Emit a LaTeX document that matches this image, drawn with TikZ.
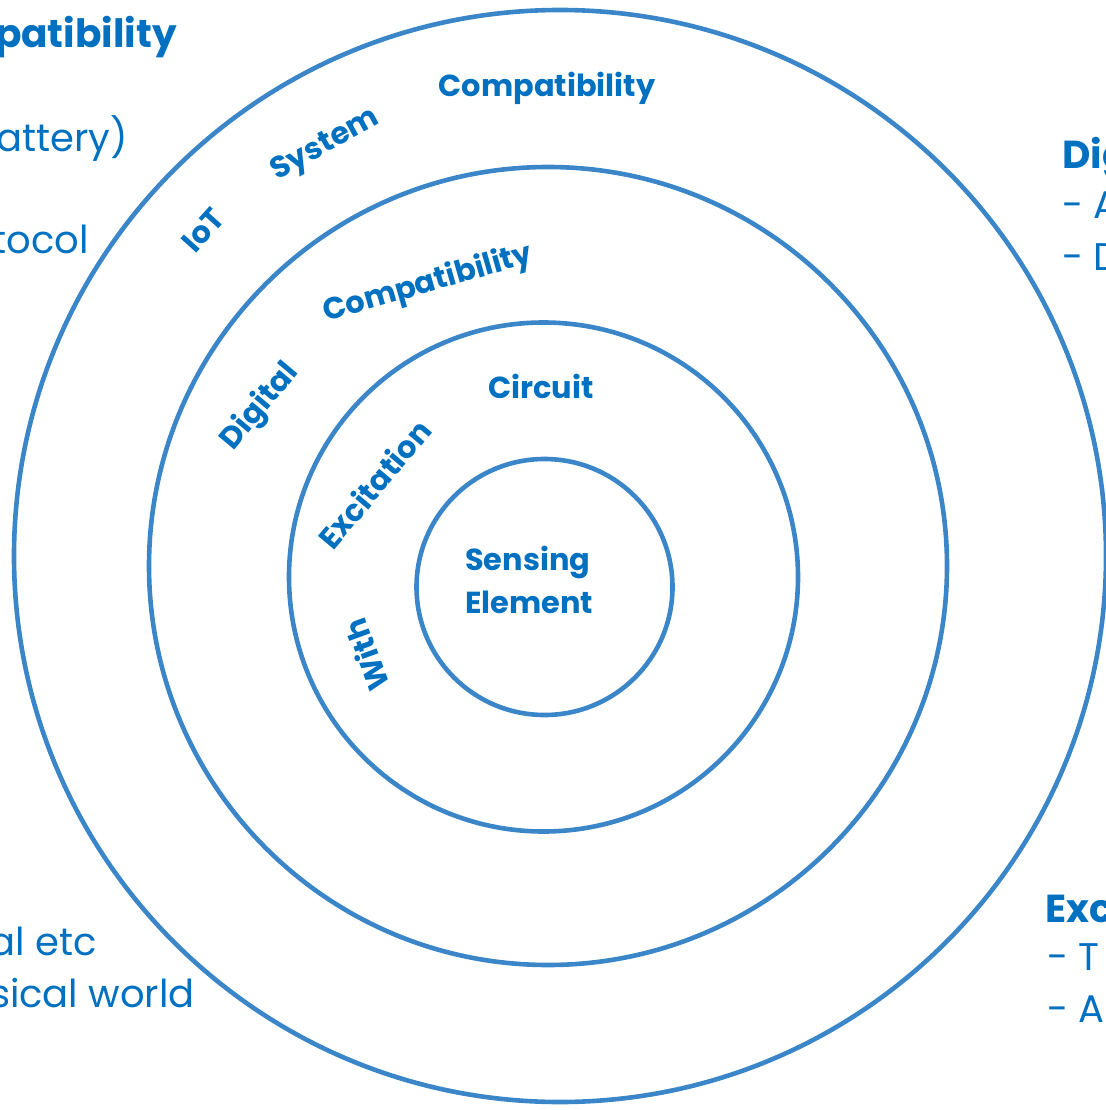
\documentclass[tikz,border=0pt]{standalone}
\usepackage{fontspec}
\setmainfont{Poppins}
\definecolor{txt}{RGB}{0,112,192}
\definecolor{ringblue}{RGB}{58,134,200}
\begin{document}
\begin{tikzpicture}[x=1pt,y=-1pt,
  ringc/.style={circle,draw=ringblue,line width=4.6pt,inner sep=0pt},
  lab/.style={text=txt,font=\fontsize{30.4}{36}\selectfont\bfseries,inner sep=0pt},
  side/.style={text=txt,font=\fontsize{38.5}{46}\selectfont,inner sep=0pt},
  head/.style={text=txt,font=\fontsize{39}{46}\selectfont\bfseries,inner sep=0pt}]
\useasboundingbox (0,0) rectangle (1105,1110);
% rings
\node[ringc,minimum size=1092pt] (r4) at (560,556) {};
\node[ringc,minimum size=798pt] (r3) at (548,566) {};
\node[ringc,minimum size=509pt] (r2) at (543.5,577) {};
\node[ringc,minimum size=256pt] (r1) at (544.5,587) {};
% ring labels
\node[lab,anchor=base] (comp1) at (547,97) {Compatibility};
\node[lab,rotate=29] (sys) at (326,146) {System};
\node[lab,rotate=48] (iot) at (203,230) {IoT};
\node[lab,rotate=16] (comp2) at (428,284) {Compatibility};
\node[lab,rotate=50] (dig) at (260,407) {Digital};
\node[lab,anchor=base] (circ) at (541,398) {Circuit};
\node[lab,rotate=50] (exc) at (374,484) {Excitation};
\node[lab,rotate=110] (with) at (366,655) {With};
\node[lab,anchor=base west] (sens) at (465,570) {Sensing};
\node[lab,anchor=base west] (elem) at (465,613) {Element};
% left side texts (cut by the page edge)
\node[head,anchor=base east] (lt1) at (177,48) {patibility};
\node[side,anchor=base east] (lt2) at (128,152) {attery)};
\node[side,anchor=base east] (lt3) at (89,253) {tocol};
\node[side,anchor=base east] (lt4) at (97,955) {al etc};
\node[side,anchor=base east] (lt5) at (195,1007) {sical world};
% right side texts (cut by the page edge)
\node[head,anchor=base west] (rt1) at (1062,168) {Dig};
\node[side,anchor=base west] (rt2) at (1062,218) {- A};
\node[side,anchor=base west] (rt3) at (1062,270) {- D};
\node[head,anchor=base west] (rt4) at (1045,922) {Exc};
\node[side,anchor=base west] (rt5) at (1047,970) {- T};
\node[side,anchor=base west] (rt6) at (1047,1022) {- A};
\end{tikzpicture}
\end{document}
